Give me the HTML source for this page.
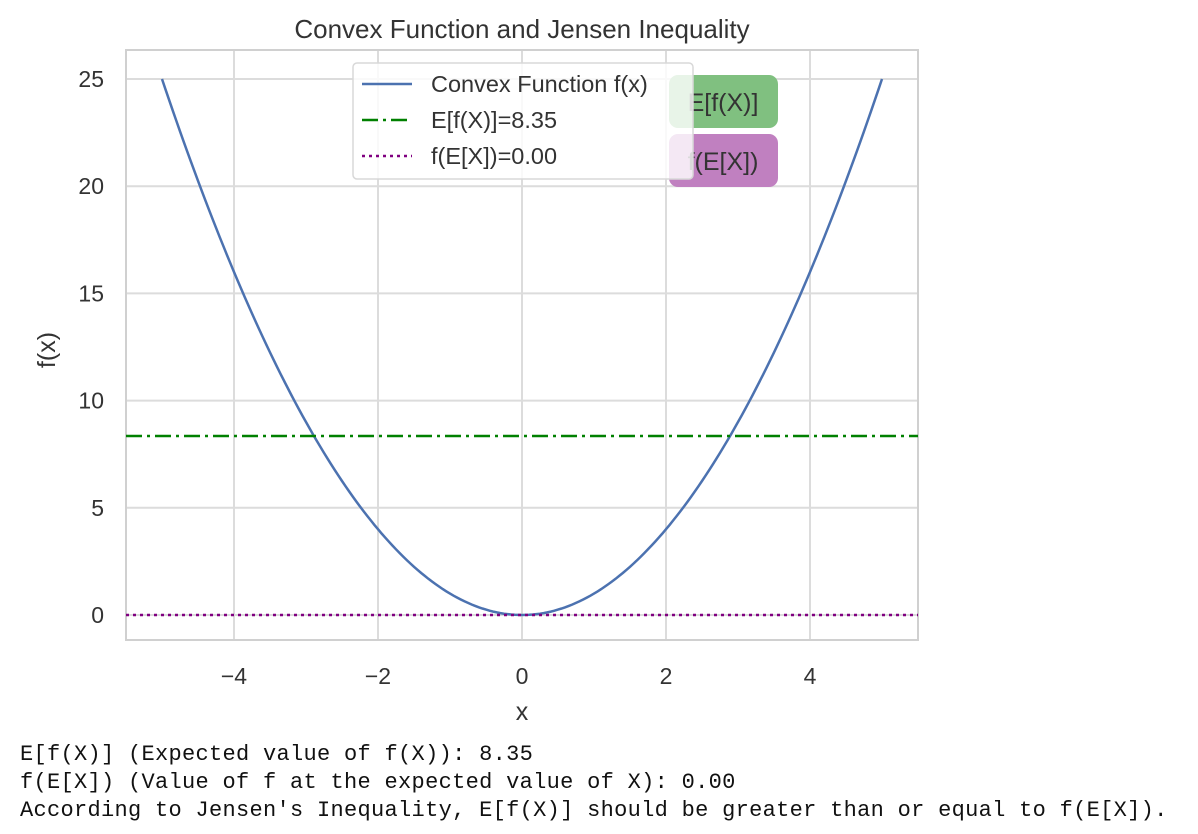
<!DOCTYPE html>
<html><head><meta charset="utf-8"><style>
body{margin:0;background:#fff;width:1198px;height:834px;overflow:hidden;font-family:"Liberation Sans",sans-serif}
#out{position:absolute;left:20px;top:741px;font-family:"Liberation Mono",monospace;font-size:22px;letter-spacing:0.3px;line-height:28px;color:#111;white-space:pre}
</style></head><body>
<svg id="chart" width="1198" height="740" style="position:absolute;left:0;top:0" font-family="Liberation Sans, sans-serif"></svg>
<div id="out">E[f(X)] (Expected value of f(X)): 8.35
f(E[X]) (Value of f at the expected value of X): 0.00
According to Jensen's Inequality, E[f(X)] should be greater than or equal to f(E[X]).</div>
<script>
const xTicks=[-4,-2,0,2,4];
const yTicks=[0,5,10,15,20,25];
const expectedF=[8.35];
const fOfExpected=[0.00];
const xDomain=[-5,5];
const NS="http://www.w3.org/2000/svg";
const svg=document.getElementById('chart');
const L=126,R=918,T=50,B=640;
const sx=v=>522+v*72;
const sy=v=>615-v*21.44;
function el(t,a,txt){const e=document.createElementNS(NS,t);for(const k in a)e.setAttribute(k,a[k]);if(txt!==undefined)e.textContent=txt;svg.appendChild(e);return e;}
let g;
xTicks.forEach(v=>{g=el('line',{x1:sx(v),x2:sx(v),y1:T,y2:B,stroke:'#dcdcdc','stroke-width':2});


g=el('text',{x:sx(v),y:684,'text-anchor':'middle','font-size':23,fill:'#333'},(v<0?'\u2212':'')+Math.abs(v));

});
yTicks.forEach(v=>{g=el('line',{x1:L,x2:R,y1:sy(v),y2:sy(v),stroke:'#dcdcdc','stroke-width':2});


g=el('text',{x:104,y:sy(v)+8,'text-anchor':'end','font-size':23,fill:'#333'},String(v));

});
g=el('rect',{x:L,y:T,width:R-L,height:B-T,fill:'none',stroke:'#d0d0d0','stroke-width':2});


let d='';for(let i=0;i<=200;i++){const x=xDomain[0]+(xDomain[1]-xDomain[0])*i/200;d+=(i?'L':'M')+sx(x).toFixed(1)+','+sy(x*x).toFixed(1);}
g=el('path',{d:d,fill:'none',stroke:'#4c72b0','stroke-width':2.5});


g=el('line',{x1:L,x2:R,y1:sy(expectedF[0]),y2:sy(expectedF[0]),stroke:'#008000','stroke-width':2.5,'stroke-dasharray':'16,5,3,5'});


g=el('line',{x1:L,x2:R,y1:sy(fOfExpected[0]),y2:sy(fOfExpected[0]),stroke:'#800080','stroke-width':2.5,'stroke-dasharray':'3,4'});


g=el('rect',{x:669,y:75,width:109,height:53,rx:9,fill:'#80c080'});


g=el('text',{x:723,y:111,'text-anchor':'middle','font-size':25,fill:'#333'},'E[f(X)]');


g=el('rect',{x:669,y:134,width:109,height:53,rx:9,fill:'#c080c0'});


g=el('text',{x:723,y:170,'text-anchor':'middle','font-size':25,fill:'#333'},'f(E[X])');


g=el('rect',{x:353,y:63,width:340,height:116,rx:4,fill:'rgba(255,255,255,0.82)',stroke:'#d8d8d8','stroke-width':1.5});


const leg=[['Convex Function f(x)','#4c72b0',''],['E[f(X)]=8.35','#008000','16,5,3,5'],['f(E[X])=0.00','#800080','3,4']];
leg.forEach((l,i)=>{const y=84+i*36;
g=el('line',{x1:362,x2:412,y1:y,y2:y,stroke:l[1],'stroke-width':2.5,'stroke-dasharray':l[2]});


g=el('text',{x:431,y:y+8,'font-size':23.5,fill:'#333'},l[0]);

});
g=el('text',{x:522,y:38,'text-anchor':'middle','font-size':26,fill:'#333'},'Convex Function and Jensen Inequality');


g=el('text',{x:522,y:720,'text-anchor':'middle','font-size':25,fill:'#333'},'x');


g=el('text',{x:55,y:350,'text-anchor':'middle','font-size':25,fill:'#333',transform:'rotate(-90 55 350)'},'f(x)');


</script>
</body></html>
